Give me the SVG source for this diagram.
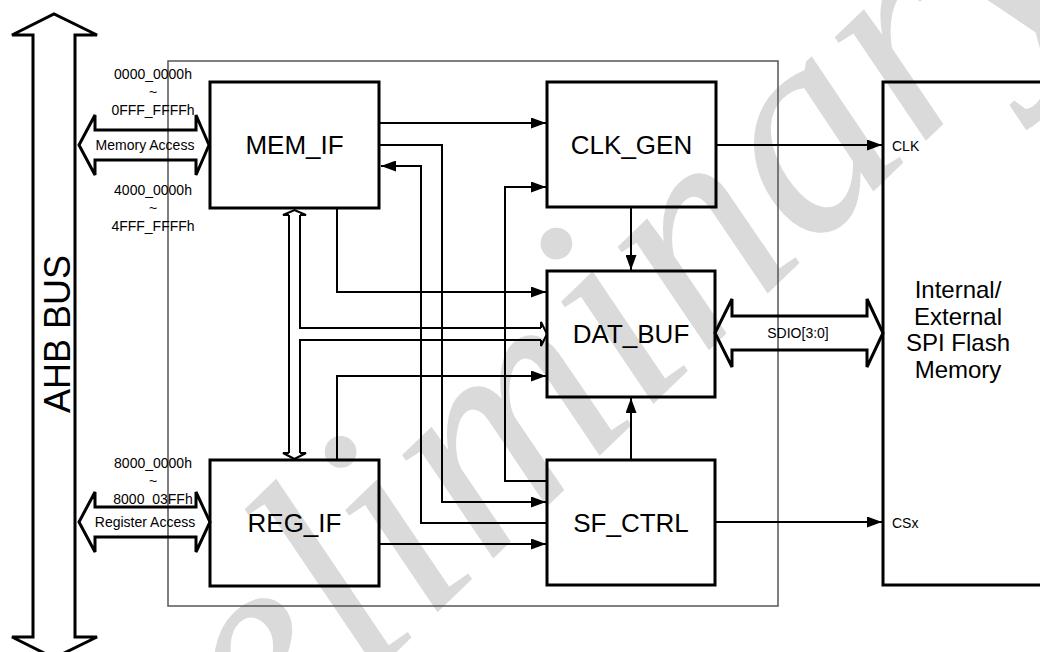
<svg xmlns="http://www.w3.org/2000/svg" width="1040" height="652" viewBox="0 0 1040 652">
<style>
.box{fill:none;stroke:#000;stroke-width:3}
.wire{fill:none;stroke:#000;stroke-width:2}
.bus{fill:none;stroke:#000;stroke-width:2;stroke-linejoin:miter}
.fat{fill:none;stroke:#000;stroke-width:3;stroke-linejoin:miter}
.lbl{font-family:"Liberation Sans",Arial,sans-serif;font-size:26px;fill:#000;text-anchor:middle}
.mem{font-family:"Liberation Sans",Arial,sans-serif;font-size:24px;fill:#000;text-anchor:middle}
.sm{font-family:"Liberation Sans",Arial,sans-serif;font-size:14px;fill:#000;text-anchor:middle}
.pin{font-family:"Liberation Sans",Arial,sans-serif;font-size:14px;fill:#000}
.wm{font-family:"Liberation Serif","Times New Roman",serif;font-style:italic;font-size:300px;fill:#dadada}
</style>
<defs>
<marker id="ah" viewBox="0 0 15 11" refX="15" refY="5.5" markerWidth="15" markerHeight="11" markerUnits="userSpaceOnUse" orient="auto">
<path d="M0,0 L15,5.5 L0,11 Z" fill="#000"/>
</marker>
</defs>
<rect width="1040" height="652" fill="#fff"/>
<text class="wm" transform="translate(62,975) rotate(-44)">Preliminary</text>
<g id="boundary">
<rect x="168" y="61" width="610" height="545" fill="none" stroke="#555" stroke-width="1.5"/>
</g>
<g id="ahb_bus">
<path class="fat" d="M33,35 L12,35 L54,14 L97,35 L75,35 L75,637 L97,637 L54,658 L12,637 L33,637 Z" stroke-width="3.5"/>
<text class="lbl" style="font-size:36px" transform="translate(70,334) rotate(-90)">AHB BUS</text>
</g>
<g id="mem_access">
<path class="fat" d="M79,145 L95,115 L95,130 L196,130 L196,115 L209,145 L196,175 L196,160 L95,160 L95,175 Z"/>
<text class="sm" x="145" y="150">Memory Access</text>
<text class="sm" x="153" y="79">0000_0000h</text>
<text class="sm" x="153" y="97">~</text>
<text class="sm" x="153" y="115">0FFF_FFFFh</text>
<text class="sm" x="153" y="195">4000_0000h</text>
<text class="sm" x="153" y="213">~</text>
<text class="sm" x="153" y="231">4FFF_FFFFh</text>
</g>
<g id="reg_access">
<path class="fat" d="M79,522 L95,492 L95,507 L196,507 L196,492 L210,522 L196,552 L196,537 L95,537 L95,552 Z"/>
<text class="sm" x="145" y="527">Register Access</text>
<text class="sm" x="153" y="468">8000_0000h</text>
<text class="sm" x="153" y="486">~</text>
<text class="sm" x="153" y="504">8000_03FFh</text>
</g>
<g id="mem_if">
<rect class="box" x="210" y="82" width="169" height="126"/>
<text class="lbl" x="294.5" y="154">MEM_IF</text>
</g>
<g id="reg_if">
<rect class="box" x="210" y="460" width="169" height="126"/>
<text class="lbl" x="294.5" y="532">REG_IF</text>
</g>
<g id="clk_gen">
<rect class="box" x="547" y="82" width="169" height="125"/>
<text class="lbl" x="631.5" y="154">CLK_GEN</text>
</g>
<g id="dat_buf">
<rect class="box" x="547" y="271" width="168" height="126"/>
<text class="lbl" x="631" y="343">DAT_BUF</text>
</g>
<g id="sf_ctrl">
<rect class="box" x="547" y="460" width="168" height="125"/>
<text class="lbl" x="631" y="532">SF_CTRL</text>
</g>
<g id="flash">
<rect class="box" x="883" y="82" width="170" height="503"/>
<text class="mem" x="958" y="298">Internal/</text>
<text class="mem" x="958" y="324.5">External</text>
<text class="mem" x="958" y="351">SPI Flash</text>
<text class="mem" x="958" y="377.5">Memory</text>
<text class="pin" x="892" y="151">CLK</text>
<text class="pin" x="892" y="528">CSx</text>
</g>
<g id="sdio">
<path class="fat" d="M715,333 L732,299 L732,316 L867,316 L867,299 L883,333 L867,367 L867,350 L732,350 L732,367 Z"/>
<text class="sm" x="798" y="338">SDIO[3:0]</text>
</g>
<g id="connectors">
<path class="wire" marker-end="url(#ah)" d="M379,123 H546"/>
<path class="wire" marker-end="url(#ah)" d="M379,145 H442 V502 H546"/>
<path class="wire" marker-end="url(#ah)" d="M547,523 H421 V166 H381"/>
<path class="wire" marker-end="url(#ah)" d="M547,481 H505 V187 H546"/>
<path class="wire" marker-end="url(#ah)" d="M337,208 V292 H546"/>
<path class="wire" marker-end="url(#ah)" d="M337,460 V376 H546"/>
<path class="wire" marker-end="url(#ah)" d="M379,544 H546"/>
<path class="wire" marker-end="url(#ah)" d="M631,207 V270"/>
<path class="wire" marker-end="url(#ah)" d="M631,460 V398"/>
<path class="wire" marker-end="url(#ah)" d="M716,145 H882"/>
<path class="wire" marker-end="url(#ah)" d="M715,522 H882"/>
<path class="bus" d="M289,215 V453 M300,215 V328 H541 M300,453 V340 H541"/>
<path class="bus" d="M289,215 H283 L294.5,210 L306,215 H300"/>
<path class="bus" d="M289,453 H283 L294.5,459 L306,453 H300"/>
<path class="bus" d="M541,328 V322 L547,334 L541,346 V340"/>
</g>
</svg>
